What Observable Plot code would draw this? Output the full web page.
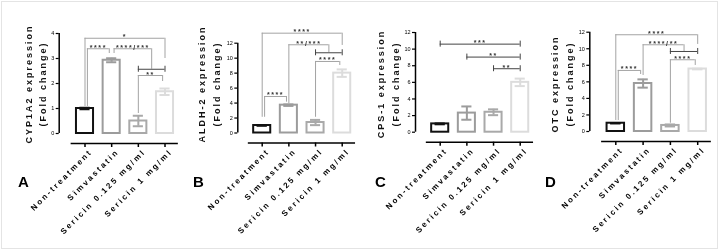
<!DOCTYPE html>
<html><head><meta charset="utf-8">
<script src="https://cdn.jsdelivr.net/npm/d3@7"></script>
<script src="https://cdn.jsdelivr.net/npm/@observablehq/plot@0.6"></script>
<style>
html,body{margin:0;padding:0;background:#fff;}
#wrap{position:relative;width:719px;height:251px;overflow:hidden;background:#fff;}
#border{position:absolute;left:1px;top:1px;width:715px;height:246px;border:1px solid #e4e4e4;}
#wrap svg{position:absolute;top:0;overflow:visible;will-change:transform;-webkit-font-smoothing:antialiased;}
g[aria-label="x-axis tick label"]{letter-spacing:2.2px;}
g[aria-label="text"][font-size="9"]{letter-spacing:2px;}
g[aria-label="text"][font-size="7"]{letter-spacing:1.6px;}
</style></head><body><div id="wrap"><div id="border"></div></div>
<script>
// ---------- data ----------
const categories = ["Non-treatment", "Simvastatin", "Sericin 0.125 mg/ml", "Sericin 1 mg/ml"];
const barColors = ["#111111", "#9c9c9c", "#a9a9a9", "#dcdcdc"];
const sericinGroup = ["Sericin 0.125 mg/ml", "Sericin 1 mg/ml"];

const cyp1a2Values = [1.0, 2.93, 0.5, 1.67];
const cyp1a2Errors = [0.03, 0.08, 0.21, 0.13];
const cyp1a2Ticks = [0, 1, 2, 3, 4];
const cyp1a2Brackets = [
  {from: "Non-treatment", to: "Sericin 1 mg/ml", level: 3.81, fromEnd: 1.08, toEnd: 3.0, label: "*"},
  {from: "Non-treatment", to: "Simvastatin", level: 3.39, fromEnd: 1.08, toEnd: 3.2, label: "****"},
  {from: "Simvastatin", to: sericinGroup, level: 3.39, fromEnd: 3.2, toEnd: 2.57, label: "****/***"},
  {from: "Sericin 0.125 mg/ml", to: "Sericin 1 mg/ml", level: 2.32, fromEnd: 0.8, toEnd: 2.08, label: "**"}
];

const aldh2Values = [1.0, 3.72, 1.4, 8.0];
const aldh2Errors = [0.03, 0.1, 0.35, 0.5];
const aldh2Ticks = [0, 2, 4, 6, 8, 10, 12];
const aldh2Brackets = [
  {from: "Non-treatment", to: "Sericin 1 mg/ml", level: 13.34, fromEnd: 2.1, toEnd: 11.7, label: "****"},
  {from: "Simvastatin", to: sericinGroup, level: 11.79, fromEnd: 3.94, toEnd: 10.72, label: "**/***"},
  {from: "Sericin 0.125 mg/ml", to: "Sericin 1 mg/ml", level: 9.56, fromEnd: 2.1, toEnd: 9.02, label: "****"},
  {from: "Non-treatment", to: "Simvastatin", level: 4.88, fromEnd: 2.1, toEnd: 4.12, label: "****"}
];

const cps1Values = [1.0, 2.3, 2.4, 6.0];
const cps1Errors = [0.05, 0.8, 0.35, 0.45];
const cps1Ticks = [0, 2, 4, 6, 8, 10, 12];
const cps1Brackets = [
  {from: "Non-treatment", to: "Sericin 1 mg/ml", level: 10.6, label: "***"},
  {from: "Simvastatin", to: "Sericin 1 mg/ml", level: 9.04, label: "**"},
  {from: "Sericin 0.125 mg/ml", to: "Sericin 1 mg/ml", level: 7.64, label: "**"}
];

const otcValues = [1.0, 5.8, 0.73, 7.55];
const otcErrors = [0.03, 0.5, 0.12, 0.04];
const otcTicks = [0, 2, 4, 6, 8, 10, 12];
const otcBrackets = [
  {from: "Non-treatment", to: "Sericin 1 mg/ml", level: 11.69, fromEnd: 1.33, toEnd: 10.52, label: "****"},
  {from: "Simvastatin", to: sericinGroup, level: 10.48, fromEnd: 6.77, toEnd: 9.67, label: "****/**"},
  {from: "Sericin 0.125 mg/ml", to: "Sericin 1 mg/ml", level: 8.67, fromEnd: 1.0, toEnd: 7.98, label: "****"},
  {from: "Non-treatment", to: "Simvastatin", level: 7.38, fromEnd: 1.33, toEnd: 6.89, label: "****"}
];

// ---------- layout / style ----------
const H = 251, AXIS_GAP = 10, BAR_HALF = 0.32, CAP = 0.19, NUDGE = 0.09;
const LETTER_BASE = 186, LABEL_CENTER = 83.5;
const FONT = "'Liberation Sans', Arial, Helvetica, sans-serif";

const panels = [
  {letter: "A", ylabel: "CYP1A2 expression", values: cyp1a2Values, errors: cyp1a2Errors, ticks: cyp1a2Ticks, brackets: cyp1a2Brackets,
   layout: {left: 0, width: 180, axisX: 58.7, firstCenter: 84.5, step: 26.67, y0: 133, yTop: 33, labelDx: -25, letterX: 23}},
  {letter: "B", ylabel: "ALDH-2 expression", values: aldh2Values, errors: aldh2Errors, ticks: aldh2Ticks, brackets: aldh2Brackets,
   layout: {left: 180, width: 180, axisX: 57.3, firstCenter: 81.7, step: 26.67, y0: 132.5, yTop: 42.7, labelDx: -30, letterX: 18}},
  {letter: "C", ylabel: "CPS-1 expression", values: cps1Values, errors: cps1Errors, ticks: cps1Ticks, brackets: cps1Brackets,
   layout: {left: 360, width: 180, axisX: 55, firstCenter: 79.7, step: 26.67, y0: 131.7, yTop: 32, labelDx: -28.7, letterX: 20}},
  {letter: "D", ylabel: "OTC expression", values: otcValues, errors: otcErrors, ticks: otcTicks, brackets: otcBrackets,
   layout: {left: 540, width: 179, axisX: 49.3, firstCenter: 75.3, step: 27.3, y0: 131, yTop: 31.7, labelDx: -28.7, letterX: 10}}
];

function idx(c) {
  return Array.isArray(c)
    ? (categories.indexOf(c[0]) + categories.indexOf(c[c.length - 1])) / 2
    : categories.indexOf(c);
}

function bracketParts(brackets) {
  const light = [], dark = [], legs = [], caps = [], labels = [];
  brackets.forEach((b, k) => {
    const capped = b.fromEnd == null && b.toEnd == null;
    let xa = idx(b.from), xb = idx(b.to);
    if (!capped) {
      brackets.forEach((o, j) => {
        if (j === k || (o.fromEnd == null && o.toEnd == null)) return;
        if (o.level < b.level - 0.2) return;
        const ends = [o.from, o.to].filter(e => !Array.isArray(e)).map(idx);
        if (!Array.isArray(b.from) && ends.includes(xa)) xa = idx(b.from) + NUDGE;
        if (!Array.isArray(b.to) && ends.includes(xb)) xb = idx(b.to) - NUDGE;
      });
    }
    (capped ? dark : light).push({x1: xa, x2: xb, y: b.level});
    if (capped) caps.push({x: xa, y: b.level}, {x: xb, y: b.level});
    if (b.fromEnd != null) legs.push({x: xa, y1: b.level, y2: b.fromEnd});
    if (b.toEnd != null) legs.push({x: xb, y1: b.level, y2: b.toEnd});
    if (Array.isArray(b.to)) {
      const g1 = idx(b.to[0]), g2 = idx(b.to[b.to.length - 1]);
      dark.push({x1: g1, x2: g2, y: b.toEnd});
      caps.push({x: g1, y: b.toEnd}, {x: g2, y: b.toEnd});
    }
    labels.push({x: (xa + xb) / 2, y: b.level, text: b.label});
  });
  return {light, dark, legs, caps, labels};
}

const wrap = document.getElementById("wrap");

panels.forEach(p => {
  const L = p.layout;
  const ymax = p.ticks[p.ticks.length - 1];
  const xmin = (L.axisX - L.firstCenter) / L.step;
  const xmax = (L.width - L.firstCenter) / L.step;
  const rows = categories.map((c, i) => ({i, c, value: p.values[i], err: p.errors[i], color: barColors[i]}));
  const br = bracketParts(p.brackets);
  const frameBottom = L.y0 + AXIS_GAP;

  const svg = Plot.plot({
    width: L.width, height: H,
    marginLeft: L.axisX, marginRight: 0, marginTop: L.yTop, marginBottom: H - frameBottom,
    style: {fontFamily: FONT, background: "transparent", color: "#000"},
    x: {type: "linear", domain: [xmin, xmax], axis: null},
    y: {domain: [0, ymax], range: [L.y0, L.yTop], axis: null},
    color: {type: "identity"},
    marks: [
      // y axis
      Plot.ruleX([xmin], {y1: 0, y2: ymax, stroke: "#000", strokeWidth: 1.5}),
      Plot.axisY({ticks: p.ticks, tickSize: 3, tickPadding: 2, fontSize: 5.5, strokeWidth: 1.2, tickFormat: d => d}),
      // x axis (offset below zero)
      Plot.ruleY([0], {x1: -0.52, x2: 3.5, dy: AXIS_GAP, stroke: "#000", strokeWidth: 1.5}),
      Plot.axisX({ticks: [0, 1, 2, 3], tickSize: 4, tickFormat: () => "", strokeWidth: 1.5}),
      Plot.axisX({ticks: [0, 1, 2, 3], tickSize: 0, tickPadding: 7, tickRotate: -45, dx: 6,
                  tickFormat: i => categories[i], fontSize: 8, fontWeight: "bold"}),
      // bars
      Plot.rectY(rows, {x1: d => d.i - BAR_HALF, x2: d => d.i + BAR_HALF, y1: 0, y2: "value",
                        fill: "white", stroke: "color", strokeWidth: 2}),
      // error bars
      Plot.ruleX(rows, {x: "i", y1: d => d.value - d.err, y2: d => d.value + d.err, stroke: "color", strokeWidth: 2}),
      Plot.ruleY(rows, {y: d => d.value + d.err, x1: d => d.i - CAP, x2: d => d.i + CAP, stroke: "color", strokeWidth: 2}),
      Plot.ruleY(rows, {y: d => d.value - d.err, x1: d => d.i - CAP, x2: d => d.i + CAP, stroke: "color", strokeWidth: 2}),
      // significance brackets
      Plot.ruleY(br.light, {y: "y", x1: "x1", x2: "x2", stroke: "#a3a3a3", strokeWidth: 1}),
      Plot.ruleX(br.legs, {x: "x", y1: "y1", y2: "y2", stroke: "#a3a3a3", strokeWidth: 1}),
      Plot.ruleY(br.dark, {y: "y", x1: "x1", x2: "x2", stroke: "#444", strokeWidth: 1}),
      Plot.ruleX(br.caps, {x: "x", y1: "y", y2: "y", insetTop: -3, insetBottom: -3, stroke: "#444", strokeWidth: 1}),
      Plot.text(br.labels, {x: "x", y: "y", text: "text", dy: 1, lineAnchor: "bottom", fontSize: 7,
                            fontWeight: "bold", fill: "#333"}),
      // y label
      Plot.text([p.ylabel + "\n(Fold change)"], {frameAnchor: "left", rotate: -90, dx: L.labelDx,
        dy: LABEL_CENTER - (L.yTop + frameBottom) / 2, textAnchor: "middle", lineAnchor: "middle",
        lineHeight: 1.65, fontSize: 9, fontWeight: "bold", fill: "#111"}),
      // panel letter
      Plot.text([p.letter], {frameAnchor: "bottom-left", dx: L.letterX - L.axisX, dy: LETTER_BASE - frameBottom,
        textAnchor: "middle", lineAnchor: "bottom", fontSize: 15, fontWeight: "bold", fill: "#000"})
    ]
  });
  svg.style.left = L.left + "px";
  wrap.appendChild(svg);
});
</script>
</body></html>
